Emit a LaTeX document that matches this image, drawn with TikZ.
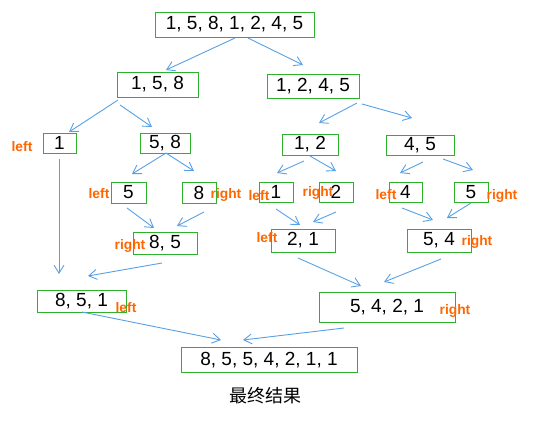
\documentclass[tikz,border=0pt]{standalone}
\usepackage{fontspec}
\setmainfont{Liberation Sans}
\newfontfamily\cjk{Noto Sans CJK SC}
\usetikzlibrary{arrows.meta}
\definecolor{boxgreen}{RGB}{46,178,46}
\definecolor{linkblue}{RGB}{88,160,228}
\definecolor{tagorange}{RGB}{255,102,0}

\begin{document}
\begin{tikzpicture}[x=0.5pt, y=-0.5pt,
    box/.style={draw=boxgreen, line width=0.5pt, inner sep=0pt, minimum height=10pt, font=\fontsize{9.5}{11}\selectfont},
    tag/.style={text=tagorange, inner sep=0pt, font=\fontsize{6.9}{8}\selectfont\bfseries},
    link/.style={draw=linkblue, line width=0.45pt, -{Straight Barb[length=4pt,width=5pt]}}]
    \useasboundingbox (0,0) rectangle (537,424);

    % Split
    \node[box, minimum width=79.5pt, minimum height=12.5pt] (root) at (234.5,24.5) {1, 5, 8, 1, 2, 4, 5};
    \node[box, minimum width=40.5pt, minimum height=12.5pt] (n158) at (157.5,84.5) {1, 5, 8};
    \node[box, minimum width=46pt, minimum height=12pt] (n1245) at (313,86) {1, 2, 4, 5};
    \node[box, minimum width=16.5pt] (n1) at (59.5,143) {1};
    \node[box, minimum width=25pt] (n58) at (165,143) {5, 8};
    \node[box, minimum width=28pt, minimum height=10.5pt] (n12) at (310,144.5) {1, 2};
    \node[box, minimum width=34pt] (n45) at (420,145) {4, 5};
    \node[box, minimum width=17.5pt, minimum height=10.5pt] (n5) at (128.5,192.5) {5};
    \node[box, minimum width=17pt, minimum height=10.5pt] (n8) at (199,192.5) {8};
    \node[box, minimum width=17pt] (n1b) at (276,192) {1};
    \node[box, minimum width=17pt] (n2) at (336,192) {2};
    \node[box, minimum width=16.5pt] (n4) at (405.5,192) {4};
    \node[box, minimum width=17pt] (n5b) at (471,192) {5};

    % Merge
    \node[box, minimum width=32pt, minimum height=11pt] (n85) at (165,243) {8, 5};
    \node[box, minimum width=32pt, minimum height=11.5pt] (n21) at (303,240.5) {2, 1};
    \node[box, minimum width=32pt, minimum height=11.5pt] (n54) at (439,240.5) {5, 4};
    \node[box, minimum width=44.5pt, minimum height=11pt] (n851) at (81.5,301) {8, 5, 1};
    \node[box, minimum width=68pt, minimum height=15pt] (n5421) at (387,307) {5, 4, 2, 1};
    \node[box, minimum width=88pt, minimum height=12.5pt] (final) at (269,360) {8, 5, 5, 4, 2, 1, 1};
    \node[font=\cjk\fontsize{9}{11}\selectfont] (caption) at (265,396) {最终结果};

    % Tags
    \node[tag] (t-n1) at (22,147) {left};
    \node[tag] (t-n5) at (99,194) {left};
    \node[tag] (t-n8) at (226,195) {right};
    \node[tag] (t-n1b) at (259,196) {left};
    \node[tag] (t-n2) at (318,193) {right};
    \node[tag] (t-n4) at (386,195) {left};
    \node[tag] (t-n5b) at (502,196) {right};
    \node[tag] (t-n85) at (130,246) {right};
    \node[tag] (t-n21) at (267,238) {left};
    \node[tag] (t-n54) at (477,242) {right};
    \node[tag] (t-n851) at (126,308) {left};
    \node[tag] (t-n5421) at (455,311) {right};

    % Links down
    \draw[link] ([shift={(0.5,13.5)}]root.center) -- ([shift={(8.5,-14.5)}]n158.center);
    \draw[link] ([shift={(13.5,13.5)}]root.center) -- ([shift={(-10,-21)}]n1245.center);
    \draw[link] ([shift={(-39.5,15.5)}]n158.center) -- ([shift={(9.5,-11)}]n1.center);
    \draw[link] ([shift={(-37.5,20.5)}]n158.center) -- ([shift={(-13,-16)}]n58.center);
    \draw[link] ([shift={(1,10)}]n58.center) -- ([shift={(3.5,-18.5)}]n5.center);
    \draw[link] ([shift={(1,10)}]n58.center) -- ([shift={(-5,-21.5)}]n8.center);
    \draw[link] ([shift={(44,17)}]n1245.center) -- ([shift={(9,-21.5)}]n12.center);
    \draw[link] ([shift={(49,18)}]n1245.center) -- ([shift={(-8,-27)}]n45.center);
    \draw[link] ([shift={(-6,16.5)}]n12.center) -- ([shift={(1,-19)}]n1b.center);
    \draw[link] ([shift={(0,11.5)}]n12.center) -- ([shift={(0,-21)}]n2.center);
    \draw[link] ([shift={(3,17)}]n45.center) -- ([shift={(-5.5,-19)}]n4.center);
    \draw[link] ([shift={(23,14)}]n45.center) -- ([shift={(2,-22)}]n5b.center);

    % Links up
    \draw[link] ([shift={(-0.5,16)}]n1.center) -- ([shift={(-22.5,-27)}]n851.center);
    \draw[link] ([shift={(-1.5,15.5)}]n5.center) -- ([shift={(-11,-15)}]n85.center);
    \draw[link] ([shift={(5,19.5)}]n8.center) -- ([shift={(12,-17)}]n85.center);
    \draw[link] ([shift={(-3,20)}]n85.center) -- ([shift={(6.5,-25)}]n851.center);
    \draw[link] ([shift={(0,17)}]n1b.center) -- ([shift={(-3,-15.5)}]n21.center);
    \draw[link] ([shift={(0,20)}]n2.center) -- ([shift={(10,-18.5)}]n21.center);
    \draw[link] ([shift={(-3.5,16)}]n4.center) -- ([shift={(-6,-20.5)}]n54.center);
    \draw[link] ([shift={(0,11)}]n5b.center) -- ([shift={(8,-22.5)}]n54.center);
    \draw[link] ([shift={(-5,17.5)}]n21.center) -- ([shift={(-26,-21)}]n5421.center);
    \draw[link] ([shift={(2,18.5)}]n54.center) -- ([shift={(-3,-25)}]n5421.center);
    \draw[link] ([shift={(0.5,11)}]n851.center) -- ([shift={(-48,-20)}]final.center);
    \draw[link] ([shift={(-43,21)}]n5421.center) -- ([shift={(-26,-20)}]final.center);
\end{tikzpicture}
\end{document}
